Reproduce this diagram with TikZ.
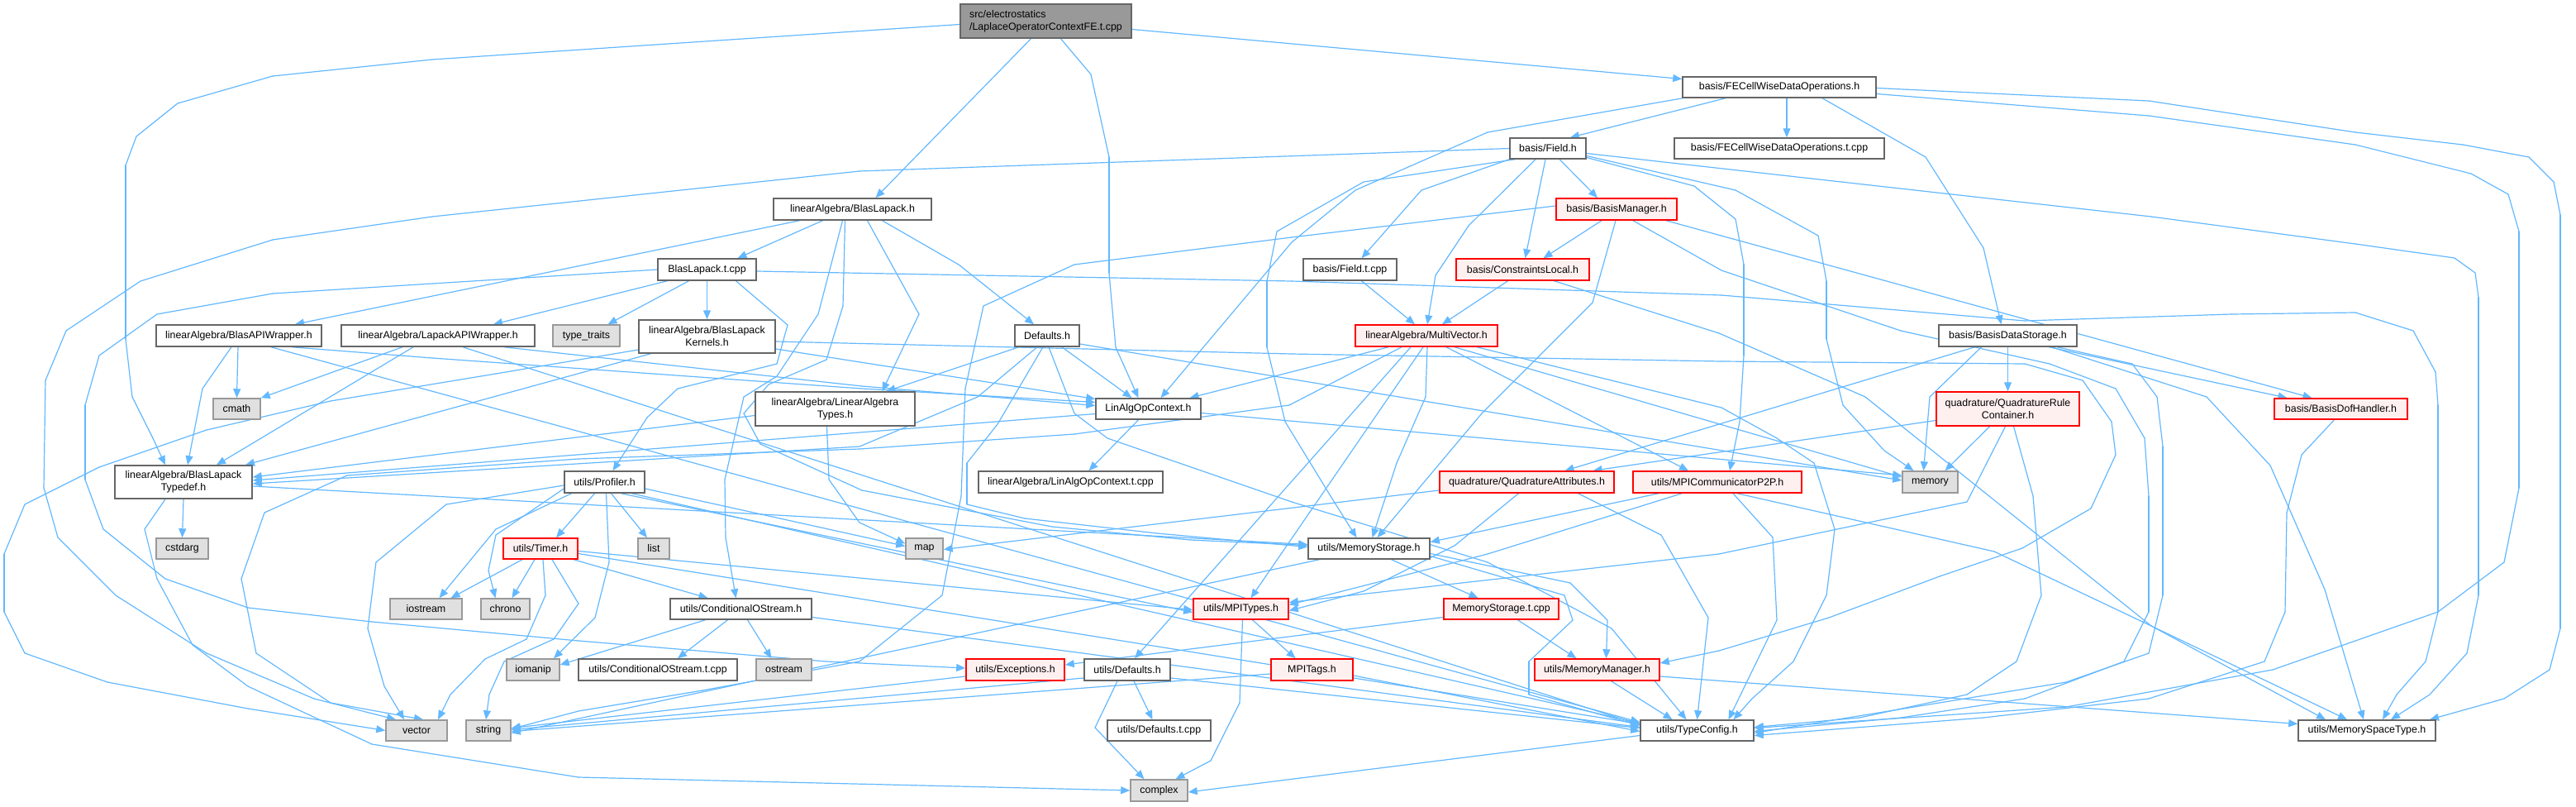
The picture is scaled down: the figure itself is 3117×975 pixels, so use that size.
\documentclass[tikz,border=0pt]{standalone}
\usepackage{fontspec}
\setmainfont{Liberation Sans}
\usetikzlibrary{arrows.meta,backgrounds}
\definecolor{edgec}{HTML}{63B8FF}
\definecolor{nbord}{HTML}{666666}
\definecolor{gbord}{HTML}{999999}
\definecolor{gfill}{HTML}{E0E0E0}
\definecolor{rootf}{HTML}{999999}
\definecolor{rfill}{HTML}{FFF0F0}
\definecolor{rbord}{HTML}{FF0000}
\tikzset{
 nb/.style={draw=nbord, fill=white, line width=1.5pt, inner sep=0pt, align=center, font=\fontsize{12.4pt}{15pt}\selectfont},
 gb/.style={nb, draw=gbord, fill=gfill},
 rb/.style={nb, draw=rbord, fill=rfill},
 rtn/.style={nb, fill=rootf},
 es/.style={draw=edgec, line width=1.2pt, line cap=round},
 ed/.style={draw=edgec, line width=1.2pt, -{Triangle[length=11pt,width=9pt]}},
}
\begin{document}
\begin{tikzpicture}[x=1pt,y=-1pt]
\useasboundingbox (0,0) rectangle (3117,975);
\node[rtn, minimum width=207pt, minimum height=41pt, align=left] (root) at (1265.5,25.5) {src/electrostatics\\/LaplaceOperatorContextFE.t.cpp};
\node[nb, minimum width=191pt, minimum height=26pt] (bl) at (1031.5,253) {linearAlgebra/BlasLapack.h};
\node[nb, minimum width=234pt, minimum height=25pt] (fecw) at (2153,105.5) {basis/FECellWiseDataOperations.h};
\node[nb, minimum width=92pt, minimum height=25pt] (field) at (1873,179.5) {basis/Field.h};
\node[nb, minimum width=254pt, minimum height=25pt] (fecwt) at (2153,179.5) {basis/FECellWiseDataOperations.t.cpp};
\node[nb, minimum width=119pt, minimum height=26pt] (blcpp) at (855.5,326) {BlasLapack.t.cpp};
\node[rb, minimum width=146pt, minimum height=26pt] (bm) at (1956,253) {basis/BasisManager.h};
\node[nb, minimum width=113pt, minimum height=26pt] (fieldt) at (1633.5,326) {basis/Field.t.cpp};
\node[rb, minimum width=161pt, minimum height=26pt] (cl) at (1842.5,326) {basis/ConstraintsLocal.h};
\node[rb, minimum width=172pt, minimum height=26pt] (mv) at (1726,406) {linearAlgebra/MultiVector.h};
\node[nb, minimum width=167pt, minimum height=26pt] (bds) at (2429.5,406) {basis/BasisDataStorage.h};
\node[rb, minimum width=173pt, minimum height=41pt] (qrc) at (2429.5,494.5) {quadrature/QuadratureRule\\Container.h};
\node[rb, minimum width=161pt, minimum height=25pt] (bdh) at (2832.5,494.5) {basis/BasisDofHandler.h};
\node[nb, minimum width=200pt, minimum height=26pt] (baw) at (289,406) {linearAlgebra/BlasAPIWrapper.h};
\node[nb, minimum width=234pt, minimum height=26pt] (law) at (530,406) {linearAlgebra/LapackAPIWrapper.h};
\node[gb, minimum width=81pt, minimum height=26pt] (tt) at (709.5,406) {type\_traits};
\node[nb, minimum width=165pt, minimum height=40pt] (blk) at (855.5,407) {linearAlgebra/BlasLapack\\Kernels.h};
\node[nb, minimum width=78pt, minimum height=26pt] (def) at (1267,406) {Defaults.h};
\node[gb, minimum width=57pt, minimum height=25pt] (cmath) at (286.5,494.5) {cmath};
\node[nb, minimum width=193pt, minimum height=41pt] (lat) at (1010.5,494.5) {linearAlgebra/LinearAlgebra\\Types.h};
\node[nb, minimum width=127pt, minimum height=25pt] (laoc) at (1389.5,494.5) {LinAlgOpContext.h};
\node[gb, minimum width=67pt, minimum height=26pt] (memory) at (2335.5,583) {memory};
\node[rb, minimum width=211pt, minimum height=26pt] (qa) at (1847.5,583) {quadrature/QuadratureAttributes.h};
\node[rb, minimum width=204pt, minimum height=26pt] (mpip2p) at (2078,583) {utils/MPICommunicatorP2P.h};
\node[nb, minimum width=166pt, minimum height=40pt] (blt) at (222,583) {linearAlgebra/BlasLapack\\Typedef.h};
\node[gb, minimum width=63pt, minimum height=25pt] (cstdarg) at (220.5,663.5) {cstdarg};
\node[nb, minimum width=97pt, minimum height=26pt] (prof) at (731.5,583) {utils/Profiler.h};
\node[gb, minimum width=45pt, minimum height=25pt] (mapn) at (1118.5,663.5) {map};
\node[nb, minimum width=147pt, minimum height=25pt] (ms) at (1656.5,663.5) {utils/MemoryStorage.h};
\node[gb, minimum width=38pt, minimum height=25pt] (listn) at (791,663.5) {list};
\node[rb, minimum width=90pt, minimum height=25pt] (timer) at (654,663.5) {utils/Timer.h};
\node[nb, minimum width=223pt, minimum height=26pt] (laoct) at (1295.5,583) {linearAlgebra/LinAlgOpContext.t.cpp};
\node[gb, minimum width=87pt, minimum height=25pt] (ios) at (515.5,736.5) {iostream};
\node[gb, minimum width=59pt, minimum height=25pt] (chr) at (611.5,736.5) {chrono};
\node[nb, minimum width=171pt, minimum height=25pt] (cond) at (896.5,736.5) {utils/ConditionalOStream.h};
\node[rb, minimum width=115pt, minimum height=25pt] (mpit) at (1501.5,736.5) {utils/MPITypes.h};
\node[rb, minimum width=139pt, minimum height=25pt] (mscpp) at (1816.5,736.5) {MemoryStorage.t.cpp};
\node[gb, minimum width=64pt, minimum height=26pt] (ioman) at (645,810) {iomanip};
\node[nb, minimum width=192pt, minimum height=26pt] (coscpp) at (796,810) {utils/ConditionalOStream.t.cpp};
\node[gb, minimum width=67pt, minimum height=26pt] (ost) at (948.5,810) {ostream};
\node[rb, minimum width=119pt, minimum height=26pt] (exc) at (1228.5,810) {utils/Exceptions.h};
\node[nb, minimum width=104pt, minimum height=26pt] (udef) at (1364,810) {utils/Defaults.h};
\node[rb, minimum width=99pt, minimum height=26pt] (mpitags) at (1587.5,810) {MPITags.h};
\node[rb, minimum width=151pt, minimum height=26pt] (mm) at (1932.5,810) {utils/MemoryManager.h};
\node[gb, minimum width=74pt, minimum height=25pt] (vecn) at (504,883.5) {vector};
\node[gb, minimum width=54pt, minimum height=25pt] (strn) at (591,883.5) {string};
\node[nb, minimum width=125pt, minimum height=25pt] (udefcpp) at (1402.5,883.5) {utils/Defaults.t.cpp};
\node[nb, minimum width=137pt, minimum height=25pt] (tc) at (2053.5,883.5) {utils/TypeConfig.h};
\node[gb, minimum width=69pt, minimum height=26pt] (cplx) at (1402.5,956) {complex};
\node[nb, minimum width=166pt, minimum height=25pt] (mst) at (2864,883.5) {utils/MemorySpaceType.h};

\begin{pgfonlayer}{background}
% A root -> BLT
\draw[es] ([yshift=-4pt]root.west) -- (523,72); \draw[es] (523,72) -- (330,92); \draw[es] (330,92) -- (215,125); \draw[es] (215,125) -- (165,165); \draw[es] (165,165) -- (152,200); \draw[es] (152,200) -- (152,410); \draw[es] (152,410) -- (160,480); \draw[es] (160,480) -- (185,530); \draw[ed] (185,530) -- ([xshift=-22pt]blt.north);
% B field -> vector
\draw[es] (field.west) -- (1040,207); \draw[es] (1040,207) -- (523,262); \draw[es] (523,262) -- (330,290); \draw[es] (330,290) -- (170,340); \draw[es] (170,340) -- (80,400); \draw[es] (80,400) -- (55,460); \draw[es] (55,460) -- (53,590); \draw[es] (53,590) -- (70,650); \draw[es] (70,650) -- (140,720); \draw[es] (140,720) -- (250,790); \draw[es] (250,790) -- (380,845); \draw[ed] (380,845) -- ([xshift=-25pt]vecn.north);
% C blcpp -> exceptions
\draw[es] (blcpp.west) -- (523,343); \draw[es] (523,343) -- (330,355); \draw[es] (330,355) -- (190,380); \draw[es] (190,380) -- (120,430); \draw[es] (120,430) -- (103,490); \draw[es] (103,490) -- (103,580); \draw[es] (103,580) -- (125,640); \draw[es] (125,640) -- (200,700); \draw[es] (200,700) -- (300,735); \draw[es] (300,735) -- (450,752); \draw[es] (450,752) -- (700,775); \draw[es] (700,775) -- (1000,800); \draw[ed] (1000,800) -- ([yshift=2pt]exc.west);
% D blk -> vector
\draw[es] ([yshift=-16pt]blk.west) -- (600,452); \draw[es] (600,452) -- (400,485); \draw[es] (400,485) -- (250,520); \draw[es] (250,520) -- (120,565); \draw[es] (120,565) -- (30,610); \draw[es] (30,610) -- (5,670); \draw[es] (5,670) -- (5,740); \draw[es] (5,740) -- (30,790); \draw[es] (30,790) -- (130,825); \draw[es] (130,825) -- (300,857); \draw[ed] (300,857) -- (vecn.west);
% E fecw -> mst
\draw[es] ([yshift=-1pt]fecw.east) -- (2600,122); \draw[es] (2600,122) -- (2850,160); \draw[es] (2850,160) -- (2980,175); \draw[es] (2980,175) -- (3060,190); \draw[es] (3060,190) -- (3090,220); \draw[es] (3090,220) -- (3098,260); \draw[es] (3098,260) -- (3098,760); \draw[es] (3098,760) -- (3085,810); \draw[es] (3085,810) -- (3030,845); \draw[ed] (3030,845) -- ([xshift=76pt]mst.north);
% F fecw -> tc
\draw[es] ([yshift=-8pt]fecw.east) -- (2600,140); \draw[es] (2600,140) -- (2850,175); \draw[es] (2850,175) -- (2990,210); \draw[es] (2990,210) -- (3035,235); \draw[es] (3035,235) -- (3048,280); \draw[es] (3048,280) -- (3048,590); \draw[es] (3048,590) -- (3030,680); \draw[es] (3030,680) -- (2950,740); \draw[es] (2950,740) -- (2750,810); \draw[es] (2750,810) -- (2500,855); \draw[ed] (2500,855) -- ([yshift=3pt]tc.east);
\draw[ed] ([xshift=-65pt]fecw.south) -- ([xshift=27pt]field.north);
\draw[ed] ([xshift=9pt]fecw.south) -- ([xshift=9pt]fecwt.north);
\draw[es] ([xshift=52pt]fecw.south) -- (2330,190); \draw[es] (2330,190) -- (2400,300); \draw[ed] (2400,300) -- ([xshift=-8pt]bds.north);
\draw[es] ([xshift=-117pt]fecw.south) -- (1800,160); \draw[es] (1800,160) -- (1640,230); \draw[es] (1640,230) -- (1563,293); \draw[ed] (1563,293) -- ([xshift=15pt]laoc.north);
% root
\draw[ed] ([xshift=-18pt]root.south) -- ([xshift=28pt]bl.north);
\draw[es] ([xshift=18pt]root.south) -- (1320,90); \draw[es] (1320,90) -- (1342,190); \draw[es] (1342,190) -- (1342,330); \draw[es] (1342,330) -- (1350,420); \draw[ed] (1350,420) -- ([xshift=-12pt]laoc.north);
\draw[ed] ([yshift=-10pt]root.east) -- ([yshift=10pt]fecw.west);
% G field -> mst
\draw[es] ([yshift=-6pt]field.east) -- (2603,262); \draw[es] (2603,262) -- (2850,295); \draw[es] (2850,295) -- (2970,312); \draw[es] (2970,312) -- (2995,330); \draw[es] (2995,330) -- (2999,360); \draw[es] (2999,360) -- (2999,720); \draw[es] (2999,720) -- (2985,790); \draw[es] (2985,790) -- (2940,840); \draw[ed] (2940,840) -- ([xshift=29pt]mst.north);
% field others
\draw[es] ([xshift=-40pt]field.south) -- (1650,220); \draw[es] (1650,220) -- (1545,280); \draw[es] (1545,280) -- (1533,340); \draw[es] (1533,340) -- (1533,420); \draw[es] (1533,420) -- (1555,510); \draw[es] (1555,510) -- (1610,600); \draw[ed] (1610,600) -- ([xshift=-15pt]ms.north);
\draw[es] (field.south west) -- (1720,230); \draw[ed] (1720,230) -- ([xshift=14pt]fieldt.north);
\draw[es] ([xshift=-15pt]field.south) -- (1777,273); \draw[es] (1777,273) -- (1737,333); \draw[ed] (1737,333) -- ([xshift=1pt]mv.north);
\draw[ed] ([xshift=-3pt]field.south) -- ([xshift=3pt]cl.north);
\draw[ed] ([xshift=14pt]field.south) -- ([xshift=-23pt]bm.north);
\draw[es] ([yshift=-9pt]field.east) -- (2100,230); \draw[es] (2100,230) -- (2200,285); \draw[es] (2200,285) -- (2210,340); \draw[es] (2210,340) -- (2210,410); \draw[es] (2210,410) -- (2230,490); \draw[es] (2230,490) -- (2280,545); \draw[ed] (2280,545) -- ([xshift=-20pt]memory.north);
\draw[es] ([yshift=-11pt]field.east) -- (2050,225); \draw[es] (2050,225) -- (2100,265); \draw[es] (2100,265) -- (2110,320); \draw[es] (2110,320) -- (2110,430); \draw[es] (2110,430) -- (2105,510); \draw[ed] (2105,510) -- ([xshift=15pt]mpip2p.north);
% H blcpp -> mst
\draw[es] ([yshift=-2pt]blcpp.east) -- (1563,340); \draw[es] (1563,340) -- (2083,357); \draw[es] (2083,357) -- (2450,388); \draw[es] (2450,388) -- (2700,380); \draw[es] (2700,380) -- (2850,378); \draw[es] (2850,378) -- (2920,400); \draw[es] (2920,400) -- (2947,450); \draw[es] (2947,450) -- (2950,490); \draw[es] (2950,490) -- (2950,740); \draw[es] (2950,740) -- (2935,800); \draw[es] (2935,800) -- (2900,840); \draw[ed] (2900,840) -- ([xshift=19pt]mst.north);
% I bm -> tc
\draw[es] ([xshift=20pt]bm.south) -- (2083,327); \draw[es] (2083,327) -- (2300,400); \draw[es] (2300,400) -- (2480,440); \draw[es] (2480,440) -- (2560,470); \draw[es] (2560,470) -- (2595,530); \draw[es] (2595,530) -- (2600,600); \draw[es] (2600,600) -- (2600,740); \draw[es] (2600,740) -- (2570,800); \draw[es] (2570,800) -- (2450,845); \draw[es] (2450,845) -- (2300,868); \draw[ed] (2300,868) -- ([yshift=-1pt]tc.east);
% bm others
\draw[ed] ([xshift=-18pt]bm.south) -- ([xshift=25pt]cl.north);
\draw[es] ([xshift=-1pt]bm.south) -- (1927,366); \draw[es] (1927,366) -- (1793,500); \draw[ed] (1793,500) -- ([xshift=10pt]ms.north);
\draw[ed] ([xshift=60pt]bm.south) -- ([xshift=-35pt]bdh.north);
\draw[es] ([yshift=4pt]bm.west) -- (1563,287); \draw[es] (1563,287) -- (1300,320); \draw[es] (1300,320) -- (1190,370); \draw[es] (1190,370) -- (1168,470); \draw[es] (1168,470) -- (1163,600); \draw[es] (1163,600) -- (1140,720); \draw[es] (1140,720) -- (1040,800); \draw[es] (1040,800) -- (850,835); \draw[es] (850,835) -- (700,860); \draw[ed] (700,860) -- ([yshift=2pt]strn.east);
% cl
\draw[ed] ([xshift=-18pt]cl.south) -- ([xshift=19pt]mv.north);
\draw[es] ([xshift=38pt]cl.south) -- (2080,403); \draw[es] (2080,403) -- (2257,480); \draw[es] (2257,480) -- (2603,757); \draw[ed] (2603,757) -- ([xshift=-24pt]mst.north);
\draw[ed] ([xshift=14pt]fieldt.south) -- ([xshift=-14pt]mv.north);
% mv
\draw[ed] ([xshift=-46pt]mv.south) -- ([xshift=50pt]laoc.north);
\draw[ed] ([xshift=-19pt]mv.south) -- ([xshift=9pt]udef.north);
\draw[ed] ([xshift=-4pt]mv.south) -- ([xshift=12pt]mpit.north);
\draw[es] ([xshift=1pt]mv.south) -- (1725,480); \draw[es] (1725,480) -- (1690,560); \draw[ed] (1690,560) -- ([xshift=4pt]ms.north);
\draw[ed] ([xshift=24pt]mv.south) -- ([xshift=-35pt]mpip2p.north);
\draw[ed] ([xshift=34pt]mv.south) -- ([yshift=6pt]memory.west);
\draw[es] ([xshift=61pt]mv.south) -- (2083,493); \draw[es] (2083,493) -- (2150,530); \draw[es] (2150,530) -- (2195,560); \draw[es] (2195,560) -- (2220,640); \draw[es] (2220,640) -- (2210,720); \draw[es] (2210,720) -- (2170,800); \draw[es] (2170,800) -- (2120,845); \draw[ed] (2120,845) -- ([xshift=44pt]tc.north);
\draw[es] ([xshift=-30pt]mv.south) -- (1560,490); \draw[es] (1560,490) -- (1300,525); \draw[es] (1300,525) -- (1040,543); \draw[es] (1040,543) -- (700,555); \draw[es] (700,555) -- (420,575); \draw[es] (420,575) -- (320,620); \draw[es] (320,620) -- (292,700); \draw[es] (292,700) -- (310,790); \draw[es] (310,790) -- (400,850); \draw[ed] (400,850) -- ([xshift=8pt]vecn.north);
% bl
\draw[ed] ([xshift=-64pt]bl.south) -- ([xshift=68pt]baw.north);
\draw[ed] ([xshift=-36pt]bl.south) -- ([xshift=37pt]blcpp.north);
\draw[es] ([xshift=18pt]bl.south) -- (1112,380); \draw[ed] (1112,380) -- ([xshift=57pt]lat.north);
\draw[es] ([xshift=36pt]bl.south) -- (1160,320); \draw[ed] (1160,320) -- ([xshift=-16pt]def.north);
\draw[es] ([xshift=-12pt]bl.south) -- (990,380); \draw[es] (990,380) -- (940,455); \draw[es] (940,455) -- (900,480); \draw[es] (900,480) -- (877,580); \draw[es] (877,580) -- (878,650); \draw[ed] (878,650) -- ([xshift=-6pt]cond.north);
\draw[es] ([xshift=-9pt]bl.south) -- (1020,370); \draw[es] (1020,370) -- (1000,435); \draw[es] (1000,435) -- (930,465); \draw[es] (930,465) -- (900,500); \draw[es] (900,500) -- (920,537); \draw[es] (920,537) -- (1043,593); \draw[es] (1043,593) -- (1273,637); \draw[es] (1273,637) -- (1440,653); \draw[ed] (1440,653) -- ([yshift=4pt]ms.west);
% baw
\draw[es] ([xshift=-9pt]baw.south) -- (245,470); \draw[ed] (245,470) -- ([xshift=5pt]blt.north);
\draw[ed] ([xshift=-1pt]baw.south) -- (cmath.north);
\draw[es] ([xshift=64pt]baw.south) -- (523,433); \draw[es] (523,433) -- (1043,470); \draw[ed] (1043,470) -- ([yshift=8pt]laoc.west);
\draw[ed] ([xshift=39pt]baw.south) -- ([yshift=10pt]tc.west);
% law
\draw[ed] ([xshift=-43pt]law.south) -- (cmath.north east);
\draw[ed] ([xshift=-30pt]law.south) -- ([xshift=40pt]blt.north);
\draw[es] ([xshift=80pt]law.south) -- (1043,467); \draw[ed] (1043,467) -- ([yshift=4pt]laoc.west);
\draw[ed] ([xshift=30pt]law.south) -- ([yshift=7pt]tc.west);
% blcpp
\draw[ed] ([xshift=-48pt]blcpp.south) -- ([xshift=67pt]law.north);
\draw[ed] ([xshift=-22pt]blcpp.south) -- ([xshift=26pt]tt.north);
\draw[ed] (blcpp.south) -- (blk.north);
\draw[es] ([xshift=35pt]blcpp.south) -- (953,393); \draw[es] (953,393) -- (940,440); \draw[es] (940,440) -- (880,455); \draw[es] (880,455) -- (820,470); \draw[es] (820,470) -- (783,505); \draw[ed] (783,505) -- ([xshift=10pt]prof.north);
% blk
\draw[ed] ([xshift=-68pt]blk.south) -- ([xshift=75pt]blt.north);
\draw[es] ([yshift=-6pt]blk.east) -- (1563,428); \draw[es] (1563,428) -- (2083,437); \draw[es] (2083,437) -- (2450,440); \draw[es] (2450,440) -- (2520,460); \draw[es] (2520,460) -- (2555,510); \draw[es] (2555,510) -- (2560,550); \draw[es] (2560,550) -- (2530,615); \draw[es] (2530,615) -- (2447,663); \draw[es] (2447,663) -- (2347,697); \draw[es] (2347,697) -- (2213,747); \draw[es] (2213,747) -- (2080,787); \draw[ed] (2080,787) -- ([yshift=8pt]mm.east);
\draw[ed] ([yshift=-15pt]blk.east) -- ([yshift=12pt]laoc.west);
% def
\draw[ed] ([xshift=-34pt]def.south) -- ([xshift=62pt]lat.north);
\draw[ed] ([xshift=18pt]def.south) -- ([xshift=-20pt]laoc.north);
\draw[es] ([xshift=-12pt]def.south) -- (1183,480); \draw[es] (1183,480) -- (1040,540); \draw[ed] (1040,540) -- ([yshift=-2pt]blt.east);
\draw[es] ([xshift=-5pt]def.south) -- (1207,513); \draw[es] (1207,513) -- (1170,560); \draw[es] (1170,560) -- (1170,610); \draw[es] (1170,610) -- (1240,627); \draw[es] (1240,627) -- (1400,645); \draw[ed] (1400,645) -- ([yshift=2pt]ms.west);
\draw[es] ([xshift=2pt]def.south) -- (1300,500); \draw[es] (1300,500) -- (1340,530); \draw[es] (1340,530) -- (1563,607); \draw[es] (1563,607) -- (1800,680); \draw[es] (1800,680) -- (1950,760); \draw[ed] (1950,760) -- ([xshift=-13pt]tc.north);
\draw[ed] ([yshift=-10pt]def.east) -- ([yshift=2pt]memory.west);
% lat
\draw[ed] ([yshift=-8pt]lat.west) -- ([yshift=6pt]blt.east);
\draw[es] ([xshift=-10pt]lat.south) -- (1003,580); \draw[es] (1003,580) -- (1040,632); \draw[ed] (1040,632) -- ([yshift=6pt]mapn.west);
% laoc
\draw[ed] ([yshift=-6pt]laoc.west) -- ([yshift=2pt]blt.east);
\draw[ed] ([xshift=-12pt]laoc.south) -- ([xshift=22pt]laoct.north);
\draw[ed] ([yshift=-5pt]laoc.east) -- ([yshift=8pt]memory.west);
% mpip2p
\draw[ed] ([xshift=-71pt]mpip2p.south) -- ([yshift=8pt]ms.east);
\draw[es] ([xshift=-43pt]mpip2p.south) -- (1800,670); \draw[ed] (1800,670) -- ([yshift=5pt]mpit.east);
\draw[es] ([xshift=19pt]mpip2p.south) -- (2145,650); \draw[es] (2145,650) -- (2150,750); \draw[ed] (2150,750) -- ([xshift=38pt]tc.north);
\draw[es] ([xshift=24pt]mpip2p.south) -- (2413,667); \draw[es] (2413,667) -- (2603,757); \draw[ed] (2603,757) -- ([xshift=-50pt]mst.north);
% qa
\draw[ed] ([yshift=-10pt]qa.west) -- ([yshift=-1pt]mapn.east);
\draw[es] ([xshift=-10pt]qa.south) -- (1760,660); \draw[es] (1760,660) -- (1650,715); \draw[ed] (1650,715) -- ([yshift=-2pt]mpit.east);
\draw[es] ([xshift=62pt]qa.south) -- (2010,647); \draw[es] (2010,647) -- (2067,747); \draw[ed] (2067,747) -- (tc.north);
% qrc
\draw[ed] ([yshift=-14pt]qrc.west) -- ([xshift=80pt]qa.north);
\draw[ed] ([xshift=-22pt]qrc.south) -- ([xshift=18pt]memory.north);
\draw[es] ([xshift=-3pt]qrc.south) -- (2380,607); \draw[es] (2380,607) -- (2080,670); \draw[ed] (2080,670) -- ([yshift=8pt]mpit.east);
\draw[es] ([xshift=7pt]qrc.south) -- (2460,600); \draw[es] (2460,600) -- (2470,720); \draw[es] (2470,720) -- (2440,800); \draw[es] (2440,800) -- (2380,840); \draw[es] (2380,840) -- (2250,868); \draw[ed] (2250,868) -- ([yshift=4pt]tc.east);
% bds
\draw[ed] ([xshift=-40pt]bds.south) -- ([xshift=46pt]qa.north);
\draw[es] ([xshift=-32pt]bds.south) -- (2335,480); \draw[ed] (2335,480) -- ([xshift=-8pt]memory.north);
\draw[ed] (bds.south) -- (qrc.north);
\draw[ed] ([xshift=50pt]bds.south) -- ([xshift=-65pt]bdh.north);
\draw[es] ([xshift=53pt]bds.south) -- (2670,480); \draw[es] (2670,480) -- (2747,563); \draw[es] (2747,563) -- (2813,713); \draw[ed] (2813,713) -- ([xshift=-4pt]mst.north);
\draw[es] ([xshift=60pt]bds.south) -- (2580,440); \draw[es] (2580,440) -- (2610,480); \draw[es] (2610,480) -- (2617,540); \draw[es] (2617,540) -- (2617,720); \draw[es] (2617,720) -- (2600,790); \draw[es] (2600,790) -- (2500,825); \draw[ed] (2500,825) -- ([yshift=-3pt]tc.east);
% bdh
\draw[es] ([xshift=-8pt]bdh.south) -- (2785,550); \draw[es] (2785,550) -- (2767,620); \draw[es] (2767,620) -- (2765,740); \draw[es] (2765,740) -- (2740,800); \draw[es] (2740,800) -- (2600,845); \draw[es] (2600,845) -- (2400,868); \draw[ed] (2400,868) -- ([yshift=-6pt]tc.east);
% ms
\draw[ed] ([xshift=27pt]ms.south) -- ([xshift=-28pt]mscpp.north);
\draw[es] ([yshift=-6pt]ms.east) -- (1900,705); \draw[es] (1900,705) -- (1945,750); \draw[ed] (1945,750) -- ([xshift=11pt]mm.north);
\draw[es] ([yshift=-9pt]ms.east) -- (1893,720); \draw[es] (1893,720) -- (1903,750); \draw[es] (1903,750) -- (1850,800); \draw[es] (1850,800) -- (1850,840); \draw[ed] (1850,840) -- ([yshift=6pt]tc.west);
\draw[ed] ([xshift=-60pt]ms.south) -- ([yshift=-3pt]strn.east);
\draw[ed] ([xshift=20pt]mscpp.south) -- ([xshift=-25pt]mm.north);
\draw[ed] ([yshift=-10pt]mscpp.west) -- ([yshift=6pt]exc.east);
% mpit
\draw[ed] ([xshift=14pt]mpit.south) -- ([xshift=-20pt]mpitags.north);
\draw[es] ([xshift=2pt]mpit.south) -- (1500,850); \draw[es] (1500,850) -- (1465,920); \draw[ed] (1465,920) -- ([xshift=20pt]cplx.north);
\draw[ed] ([yshift=-7pt]mpitags.east) -- ([yshift=-1pt]tc.west);
\draw[ed] ([yshift=-5pt]mpitags.west) -- ([yshift=-1pt]strn.east);
% udef
\draw[ed] ([xshift=8pt]udef.south) -- ([xshift=-8pt]udefcpp.north);
\draw[es] ([xshift=-12pt]udef.south) -- (1325,880); \draw[ed] (1325,880) -- ([xshift=-18pt]cplx.north);
\draw[ed] ([yshift=-10pt]udef.east) -- ([yshift=3pt]tc.west);
\draw[ed] ([yshift=-10pt]udef.west) -- ([yshift=1pt]strn.east);
\draw[ed] ([yshift=-8pt]exc.west) -- ([yshift=3pt]strn.east);
% profiler
\draw[ed] ([xshift=-12pt]prof.south) -- ([xshift=19pt]timer.north);
\draw[ed] ([xshift=8pt]prof.south) -- ([xshift=-8pt]listn.north);
\draw[es] ([xshift=-40pt]prof.south) -- (600,640); \draw[ed] (600,640) -- ([xshift=16pt]ios.north);
\draw[es] ([yshift=-8pt]prof.west) -- (600,647); \draw[es] (600,647) -- (591,690); \draw[ed] (591,690) -- ([xshift=-12pt]chr.north);
\draw[es] ([xshift=2pt]prof.south) -- (737,680); \draw[es] (737,680) -- (720,747); \draw[ed] (720,747) -- ([xshift=25pt]ioman.north);
\draw[ed] ([yshift=-8pt]prof.east) -- ([yshift=3pt]mapn.west);
\draw[ed] ([xshift=20pt]prof.south) -- ([yshift=-4pt]mpit.west);
\draw[ed] ([xshift=33pt]prof.south) -- ([yshift=9pt]tc.west);
\draw[es] ([yshift=-4pt]prof.west) -- (540,610); \draw[es] (540,610) -- (455,680); \draw[es] (455,680) -- (445,760); \draw[es] (445,760) -- (465,830); \draw[ed] (465,830) -- ([xshift=-15pt]vecn.north);
% timer
\draw[ed] ([xshift=-22pt]timer.south) -- ([xshift=30pt]ios.north);
\draw[ed] ([xshift=-7pt]timer.south) -- ([xshift=8pt]chr.north);
\draw[es] ([xshift=3pt]timer.south) -- (660,720); \draw[es] (660,720) -- (637,773); \draw[es] (637,773) -- (587,797); \draw[es] (587,797) -- (545,840); \draw[ed] (545,840) -- ([xshift=26pt]vecn.north);
\draw[es] ([xshift=14pt]timer.south) -- (700,730); \draw[es] (700,730) -- (670,773); \draw[es] (670,773) -- (610,800); \draw[es] (610,800) -- (592,840); \draw[ed] (592,840) -- ([xshift=-3pt]strn.north);
\draw[ed] ([xshift=40pt]timer.south) -- ([xshift=-40pt]cond.north);
\draw[ed] ([yshift=-3pt]timer.east) -- ([yshift=-1pt]mpit.west);
\draw[ed] ([yshift=-6pt]timer.east) -- ([yshift=8pt]tc.west);
% cond
\draw[ed] ([xshift=-43pt]cond.south) -- ([yshift=6pt]ioman.east);
\draw[ed] ([xshift=-16pt]cond.south) -- ([xshift=24pt]coscpp.north);
\draw[ed] ([xshift=8pt]cond.south) -- ([xshift=-15pt]ost.north);
\draw[ed] ([yshift=-10pt]cond.east) -- ([yshift=4pt]tc.west);
% blt
\draw[ed] (blt.south) -- (cstdarg.north);
\draw[es] ([xshift=-22pt]blt.south) -- (175,640); \draw[es] (175,640) -- (190,700); \draw[es] (190,700) -- (233,780); \draw[es] (233,780) -- (300,830); \draw[es] (300,830) -- (450,900); \draw[es] (450,900) -- (700,940); \draw[ed] (700,940) -- (cplx.west);
\draw[ed] ([yshift=-5pt]blt.east) -- ([yshift=5pt]ms.west);
% mm, tc
\draw[ed] ([yshift=-8pt]mm.east) -- ([yshift=8pt]mst.west);
\draw[ed] ([xshift=17pt]mm.south) -- ([xshift=-30pt]tc.north);
\draw[ed] ([yshift=-6pt]tc.west) -- ([yshift=-2pt]cplx.east);
\end{pgfonlayer}
\end{tikzpicture}
\end{document}
